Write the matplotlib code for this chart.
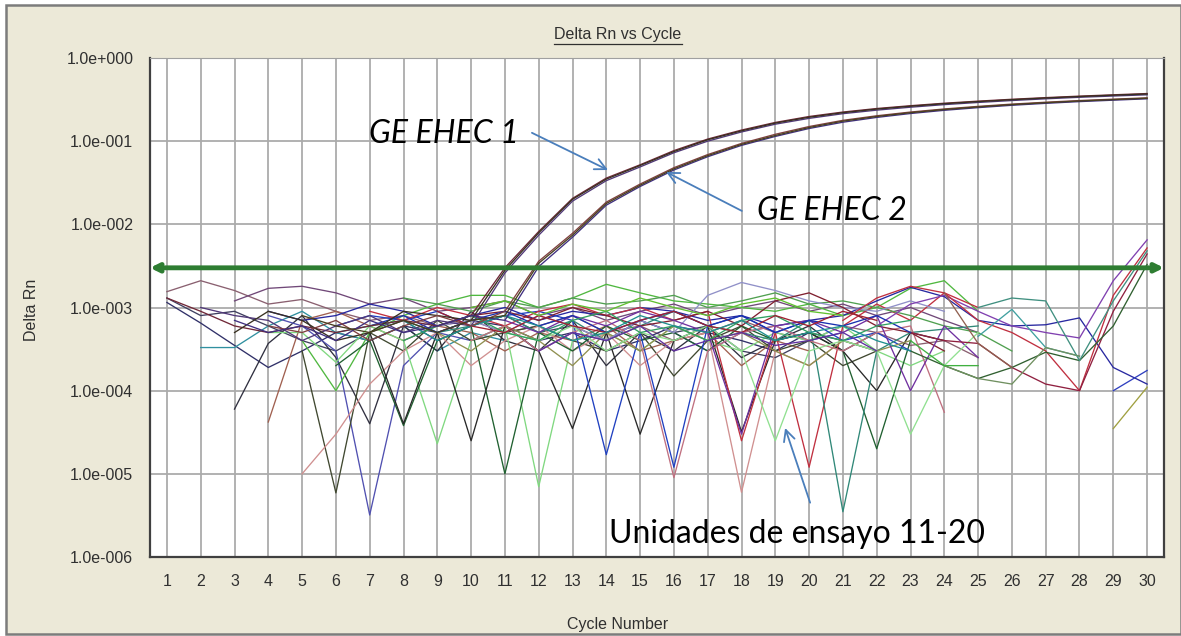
import matplotlib
matplotlib.use('Agg')
import matplotlib.pyplot as plt
import numpy as np
from matplotlib.patches import Rectangle
from matplotlib.lines import Line2D

N = np.nan
cycles = np.arange(1, 31)
threshold = 3.0e-3

# amplification curves (GE EHEC 1 / GE EHEC 2), cycles 1..30
g1a = [1.3e-3, 9e-4, 6e-4, 5e-4, 6e-4, 5e-4, 6e-4, 7e-4, 6e-4, 8e-4, 3.0e-3, 8.2e-3, 2.05e-2, 3.6e-2, 5.2e-2,
       7.7e-2, 0.106, 0.136, 0.168, 0.198, 0.224, 0.247, 0.267, 0.286, 0.303, 0.319, 0.334, 0.348, 0.361, 0.374]
g1b = [N, 1.0e-3, 8e-4, 7e-4, 4e-4, 6e-4, 8e-4, 5e-4, 7e-4, 6e-4, 2.6e-3, 7.4e-3, 1.9e-2, 3.35e-2, 4.9e-2,
       7.25e-2, 0.100, 0.129, 0.160, 0.188, 0.214, 0.236, 0.256, 0.275, 0.292, 0.308, 0.323, 0.337, 0.349, 0.361]
g1c = [N, N, 5e-4, 9e-4, 7e-4, 4e-4, 5e-4, 9e-4, 8e-4, 7e-4, 2.8e-3, 7.9e-3, 2.0e-2, 3.5e-2, 5.1e-2,
       7.5e-2, 0.104, 0.133, 0.165, 0.194, 0.220, 0.243, 0.263, 0.282, 0.299, 0.315, 0.330, 0.344, 0.357, 0.369]
g2a = [N, N, N, 6e-4, 5e-4, 7e-4, 4e-4, 6e-4, 8e-4, 6e-4, 9e-4, 3.6e-3, 7.8e-3, 1.85e-2, 3.05e-2,
       4.8e-2, 6.9e-2, 9.4e-2, 0.121, 0.150, 0.178, 0.202, 0.224, 0.244, 0.262, 0.279, 0.294, 0.308, 0.320, 0.332]
g2b = [N, N, 7e-4, 5e-4, 6e-4, 4e-4, 7e-4, 5e-4, 6e-4, 8e-4, 7e-4, 3.1e-3, 7.0e-3, 1.7e-2, 2.85e-2,
       4.5e-2, 6.5e-2, 8.9e-2, 0.114, 0.142, 0.169, 0.193, 0.215, 0.235, 0.253, 0.270, 0.285, 0.299, 0.311, 0.323]
g2c = [N, N, N, N, 8e-4, 6e-4, 5e-4, 7e-4, 5e-4, 7e-4, 8e-4, 3.4e-3, 7.4e-3, 1.78e-2, 2.95e-2,
       4.65e-2, 6.7e-2, 9.15e-2, 0.117, 0.146, 0.174, 0.198, 0.220, 0.240, 0.258, 0.275, 0.290, 0.304, 0.316, 0.328]

# background traces (Unidades de ensayo 11-20): first cycle, then values
n01 = (1, [1.55e-3, 2.1e-3, 1.6e-3, 1.1e-3, 1.25e-3, 9e-4, 7e-4, 8e-4, 6e-4, 7e-4, 5e-4, 6e-4, 8e-4, 5e-4,
           6e-4, 4e-4, 5e-4, 7e-4, 5e-4, 4e-4, 6e-4, 5e-4, 3.5e-4, 4e-4, 2.5e-4])
n02 = (1, [1.15e-3, 6.5e-4, 3.5e-4, 1.9e-4, 3e-4, 5e-4, 4e-4, 6e-4, 5e-4, 7e-4, 6e-4, 4e-4, 5e-4, 3e-4,
           4e-4, 6e-4, 5e-4, 4e-4, 3e-4, 5e-4, 4e-4, 3e-4])
n03 = (1, [1.3e-3, 8e-4, 9e-4, 6e-4, 4e-4, 3e-4, 5e-4, 7e-4, 4e-4, 6e-4, 8e-4, 5e-4, 6e-4, 4e-4, 7e-4,
           5e-4, 6e-4, 3e-4, 2.5e-4, 4e-4])
n04 = (2, [3.3e-4, 3.3e-4, 6e-4, 9e-4, 5e-4, 4e-4, 6e-4, 3e-4, 5e-4, 4e-4])
n05 = (3, [1.2e-3, 1.7e-3, 1.8e-3, 1.5e-3, 1.1e-3, 1.3e-3, 9e-4, 1.0e-3, 1.2e-3, 8e-4, 1.0e-3, 7e-4, 9e-4,
           1.1e-3, 8e-4, 1.0e-3, 1.2e-3, 9e-4, 1.1e-3, 8e-4, 1.0e-3, 7e-4, 5e-4])
n06 = (3, [6e-5, 3.7e-4, 8e-4, 2.5e-4, 4e-5, 6e-4, 3e-4, 9e-4, 4e-4, 3e-4, 7e-4, 2e-4, 5e-4, 3e-4, 6e-4,
           2.5e-4, 4e-4, 6e-4, 3e-4, 5e-4])
n07 = (4, [4.2e-5, 7e-4, 9e-4, 6e-4, 4e-4, 6e-4, 5e-4, 3e-4, 5e-4, 4e-4, 6e-4, 3e-4, 4e-4, 5e-4, 2e-4,
           4e-4, 3e-4])
n08 = (4, [8e-4, 6e-4, 3e-4, 3.2e-6, 2e-4, 5e-4, 4e-4, 6e-4, 3e-4, 5e-4, 4e-4, 7e-4, 5e-4, 3e-4, 5e-4,
           6e-4, 4e-4, 5e-4])
n09 = (5, [3e-4, 5.9e-6, 5e-4, 3e-4, 7e-4, 4e-4, 5e-4, 6e-4, 4e-4, 3e-4, 5e-4, 1.5e-4, 4e-4, 6e-4, 3e-4,
           4e-4, 2e-4, 3e-4])
n10 = (5, [1e-5, 3e-5, 1.2e-4, 3e-4, 5e-4, 2e-4, 4e-4, 6e-4, 3e-4, 5e-4, 2e-4, 4e-4, 5e-4, 6e-6, 3e-4,
           2e-4, 4e-4])
n11 = (4, [5e-4, 5e-4, 2.2e-4, 6e-4, 4e-4, 2.3e-5, 4e-4, 6e-4, 7e-6, 4e-4, 5e-4, 3e-4, 6e-4, 4e-4, 3e-4,
           5e-4, 4e-4, 6e-4, 3e-4, 2e-4, 3e-4])
n12 = (5, [4e-4, 1.0e-4, 5e-4, 8e-4, 1.1e-3, 1.4e-3, 1.4e-3, 1.0e-3, 1.3e-3, 1.9e-3, 1.5e-3, 1.2e-3, 1.1e-3,
           1.0e-3, 9e-4, 1.1e-3, 8e-4, 1.0e-3, 1.7e-3, 2.1e-3, 9e-4])
n13 = (4, [9e-4, 7e-4, 8e-4, 1.1e-3, 9e-4, 6e-4, 8e-4, 1.0e-3, 7e-4, 9e-4, 8e-4, 1.0e-3, 9e-4, 7e-4, 8e-4,
           6e-4, 7e-4, 8e-4, 1.2e-3, 1.75e-3, 1.35e-3, 7e-4, 6e-4, 6.2e-4, 7.5e-4, 1.9e-4, 1.2e-4])
n14 = (6, [2e-4, 4e-4, 3.8e-5, 4e-4, 6e-4, 1.0e-5, 5e-4, 3e-4, 6e-4, 4e-4, 5e-4, 3e-4, 6e-4, 4e-4, 5e-4,
           3e-4, 2e-5, 4e-4])
n15 = (7, [5e-4, 4e-5, 5e-4, 2.5e-5, 6e-4, 3e-4, 3.5e-5, 5e-4, 3e-5, 4e-4, 6e-4, 3.2e-5, 4e-4, 5e-4, 3e-4,
           1e-4, 5e-4, 4e-4])
n16 = (6, [6e-4, 8e-4, 7e-4, 9e-4, 6e-4, 8e-4, 9e-4, 7e-4, 1.7e-5, 5e-4, 1.2e-5, 6e-4, 8e-4, 5e-4, 7e-4,
           4e-4, 5e-4, 3e-4])
n17 = (7, [9e-4, 7e-4, 1.0e-3, 8e-4, 6e-4, 9e-4, 1.1e-3, 8e-4, 1.0e-3, 7e-4, 9e-4, 2.5e-5, 5e-4, 1.2e-5,
           6e-4, 1.1e-3, 7e-4, 1.5e-3, 1.0e-3])
n18 = (8, [7e-4, 5e-4, 6e-4, 8e-4, 5e-4, 7e-4, 4e-4, 6e-4, 9e-4, 6e-4, 5e-4, 4e-4, 7e-4, 3.5e-6, 3e-4,
           5e-4, 5.5e-4, 6e-4])
n19 = (8, [1.3e-3, 1.1e-3, 9e-4, 1.2e-3, 1.0e-3, 1.3e-3, 1.1e-3, 1.2e-3, 1.4e-3, 1.0e-3, 1.2e-3, 1.5e-3,
           1.1e-3, 1.2e-3, 1.0e-3, 8e-4, 6e-4, 5e-4, 3e-4])
n20 = (9, [5e-4, 3e-4, 6e-4, 4e-4, 2e-4, 5e-4, 3e-4, 6e-4, 4e-4, 5e-4, 3e-4, 2e-4, 4e-4, 3e-4, 4e-4])
n21 = (9, [6e-4, 7e-4, 5e-4, 8e-4, 6e-4, 4e-4, 7e-4, 5e-4, 1.4e-3, 2.0e-3, 1.6e-3, 1.2e-3, 1.0e-3, 9e-4,
           1.2e-3, 9e-4])
n22 = (10, [4e-4, 6e-4, 3e-4, 5e-4, 7e-4, 4e-4, 9e-6, 3e-4, 5e-4, 6e-4, 4e-4, 3e-4, 5e-4, 6e-4, 5.5e-5])
n23 = (10, [8e-4, 9e-4, 7e-4, 1.0e-3, 8e-4, 6e-4, 7e-4, 9e-4, 6e-4, 1.2e-3, 1.5e-3, 1.0e-3, 6e-4, 5e-4, 3e-4])
n24 = (11, [7e-4, 5e-4, 8e-4, 6e-4, 9e-4, 7e-4, 5e-4, 3e-5, 6e-4, 7e-4, 5e-4, 8e-4, 1.0e-4, 6e-4, 2.5e-4])
n25 = (11, [5e-4, 4e-4, 6e-4, 3e-4, 5e-4, 4e-4, 6e-4, 3e-4, 2.5e-5, 3e-4, 4e-4, 3e-4, 3e-5, 2e-4, 5e-4])
n26 = (22, [6e-4, 1.1e-3, 1.4e-3, 9e-4, 6e-4, 5e-4, 4.3e-4, 2.1e-3, 6.5e-3])
n27 = (21, [7e-4, 1.3e-3, 1.8e-3, 1.5e-3, 7e-4, 5e-4, 3e-4, 1.0e-4, 1.4e-3, 5.2e-3])
n28 = (23, [5e-4, 4e-4, 3.7e-4, 1.9e-4, 1.2e-4, 1.0e-4, 9e-4, 4.4e-3])
n29 = (23, [3e-4, 2.0e-4, 1.4e-4, 1.9e-4, 2.9e-4, 2.3e-4, 6e-4, 3.3e-3])
n30 = (25, [1.0e-3, 1.3e-3, 1.2e-3, 2.3e-4, 1.2e-3, 4.8e-3])
n31 = (29, [3.5e-5, 1.1e-4])
n32 = (29, [1.0e-4, 1.75e-4])
n33 = (25, [4.5e-4, 9.5e-4, 3.3e-4, 2.6e-4])
n34 = (24, [2e-4, 1.4e-4, 1.2e-4, 3.3e-4, 2.6e-4])
n35 = (24, [1.5e-3, 3.7e-4, 1.9e-4])
n36 = (23, [4e-4, 2e-4, 2e-4])
n37 = (7, [6e-4, 8e-4, 5e-4, 7e-4, 9e-4, 6e-4, 8e-4, 5e-4, 7e-4, 9e-4, 6e-4, 8e-4, 5e-4, 7e-4, 6e-4,
           8e-4, 5e-4])
n38 = (8, [4e-4, 6e-4, 8e-4, 5e-4, 4e-4, 7e-4, 9e-4, 5e-4, 6e-4, 4e-4, 7e-4, 8e-4, 5e-4, 4e-4, 6e-4, 7e-4])
n39 = (9, [9e-4, 6e-4, 5e-4, 8e-4, 6e-4, 5e-4, 7e-4, 9e-4, 6e-4, 5e-4, 8e-4, 6e-4, 9e-4, 7e-4])
n40 = (6, [5e-4, 6e-4, 7e-4, 4e-4, 6e-4, 8e-4, 6e-4, 4e-4, 5e-4, 8e-4, 6e-4, 5e-4, 7e-4, 4e-4, 5e-4,
           6e-4, 4e-4, 3e-4])
n41 = (10, [1.0e-3, 1.2e-3, 8e-4, 1.1e-3, 9e-4, 1.3e-3, 1.0e-3, 8e-4, 1.1e-3, 1.3e-3, 9e-4, 8e-4])
n42 = (12, [3e-4, 5e-4, 4e-4, 6e-4, 3e-4, 4e-4, 5e-4, 3.5e-4, 4e-4, 5e-4, 3e-4])

amp_curves = [g1a, g1b, g1c, g2a, g2b, g2c]
amp_colors = ['#702838', '#503878', '#383020', '#804040', '#403080', '#484020']

noise = [n01, n02, n03, n04, n05, n06, n07, n08, n09, n10, n11, n12, n13, n14, n15, n16, n17, n18,
         n19, n20, n21, n22, n23, n24, n25, n26, n27, n28, n29, n30, n31, n32, n33, n34, n35, n36,
         n37, n38, n39, n40, n41, n42]
noise_colors = ['#8a6070', '#303068', '#404060', '#3090a0', '#704878', '#303040', '#a06050', '#5050b0',
                '#404830', '#d09090', '#80d880', '#50b840', '#2828a0', '#206030', '#282828', '#2040c0',
                '#c03040', '#308878', '#50a050', '#909050', '#9090c8', '#c07080', '#802030', '#7030a0',
                '#90e090', '#8040b0', '#c03040', '#902040', '#306030', '#409080', '#a0a040', '#3040c0',
                '#40a0a0', '#709060', '#906050', '#40b040', '#1830b0', '#30a060', '#a02030', '#209090',
                '#60c030', '#6030a0']


def pad(start, vals):
    '''place a partial trace on the 30-cycle axis'''
    arr = np.full(len(cycles), np.nan)
    arr[start - 1:start - 1 + len(vals)] = vals
    return arr


W, H = 1181, 636
fig = plt.figure(figsize=(W / 100, H / 100), dpi=100, facecolor='white')
fig.patches.append(Rectangle((6 / W, 2 / H), (W - 6) / W, (634 - 5) / H, transform=fig.transFigure,
                             facecolor='#ece9d8', edgecolor='#7c7c7c', lw=1.8, zorder=-10))

ax = fig.add_axes([150 / W, (H - 557) / H, (1164 - 150) / W, (557 - 58) / H])
ax.set_zorder(5)
ax.set_facecolor('white')
ax.set_yscale('log')
ax.set_xlim(0.5, 30.5)
ax.set_ylim(1e-6, 1)

tick_font = dict(family='Liberation Sans', size=11.5, color='#303030')
exps = np.arange(0, -7, -1)
ax.set_yticks(10.0 ** exps)
ax.set_yticklabels([f'1.0e{e:+04d}' for e in exps], **tick_font)
ax.yaxis.set_minor_locator(matplotlib.ticker.NullLocator())
ax.set_xticks(cycles)
ax.set_xticklabels([str(c) for c in cycles], **tick_font)
ax.tick_params(length=0)
ax.tick_params(axis='y', pad=12)
ax.tick_params(axis='x', pad=12)
ax.grid(True, color='#ababab', lw=1.3)
ax.set_axisbelow(True)
for side in ['left', 'bottom', 'right']:
    ax.spines[side].set_color('#404040')
    ax.spines[side].set_linewidth(1.6)
ax.spines['top'].set_color('#a0a0a0')

for (start, vals), col in zip(noise, noise_colors):
    ax.plot(cycles, pad(start, vals), color=col, lw=0.95)
for vals, col in zip(amp_curves, amp_colors):
    ax.plot(cycles, vals, color=col, lw=0.95)

# threshold line with arrowheads at both ends
ax.annotate('', xy=(30.5, threshold), xytext=(0.5, threshold), annotation_clip=False,
            arrowprops=dict(arrowstyle='<->', color='#2e7d32', lw=3.5, shrinkA=0, shrinkB=0,
                            mutation_scale=12))

lab_font = dict(family='Lato', size=23, color='black')
ax.text(6.98, 0.122, 'GE EHEC 1', style='italic', va='center', ha='left', **lab_font)
ax.text(18.46, 0.0145, 'GE EHEC 2', style='italic', va='center', ha='left', **lab_font)
ax.text(14.08, 1.9e-6, 'Unidades de ensayo 11-20', va='center', ha='left', **lab_font)

arrow_props = dict(arrowstyle='->', color='#4a7ebb', lw=1.3, mutation_scale=20, shrinkA=0, shrinkB=0)
ax.annotate('', xy=(14.05, 0.045), xytext=(11.8, 0.126), arrowprops=arrow_props)
ax.annotate('', xy=(15.77, 0.0426), xytext=(18.01, 0.0145), arrowprops=arrow_props)
ax.annotate('', xy=(19.29, 3.56e-5), xytext=(20.03, 4.5e-6), arrowprops=arrow_props)

title = fig.text(618 / W, 1 - 35 / H, 'Delta Rn vs Cycle', ha='center', va='center', **tick_font)
fig.text(32 / W, 1 - 310 / H, 'Delta Rn', rotation=90, ha='center', va='center', **tick_font)
fig.text(618 / W, 1 - 624 / H, 'Cycle Number', ha='center', va='center', **tick_font)

# underline the title
fig.canvas.draw()
bb = title.get_window_extent()
fig.add_artist(Line2D([bb.x0 / W, bb.x1 / W], [(bb.y0 - 1) / H, (bb.y0 - 1) / H], color='#303030', lw=0.9))

fig.savefig('out.png', dpi=100, facecolor=fig.get_facecolor())
